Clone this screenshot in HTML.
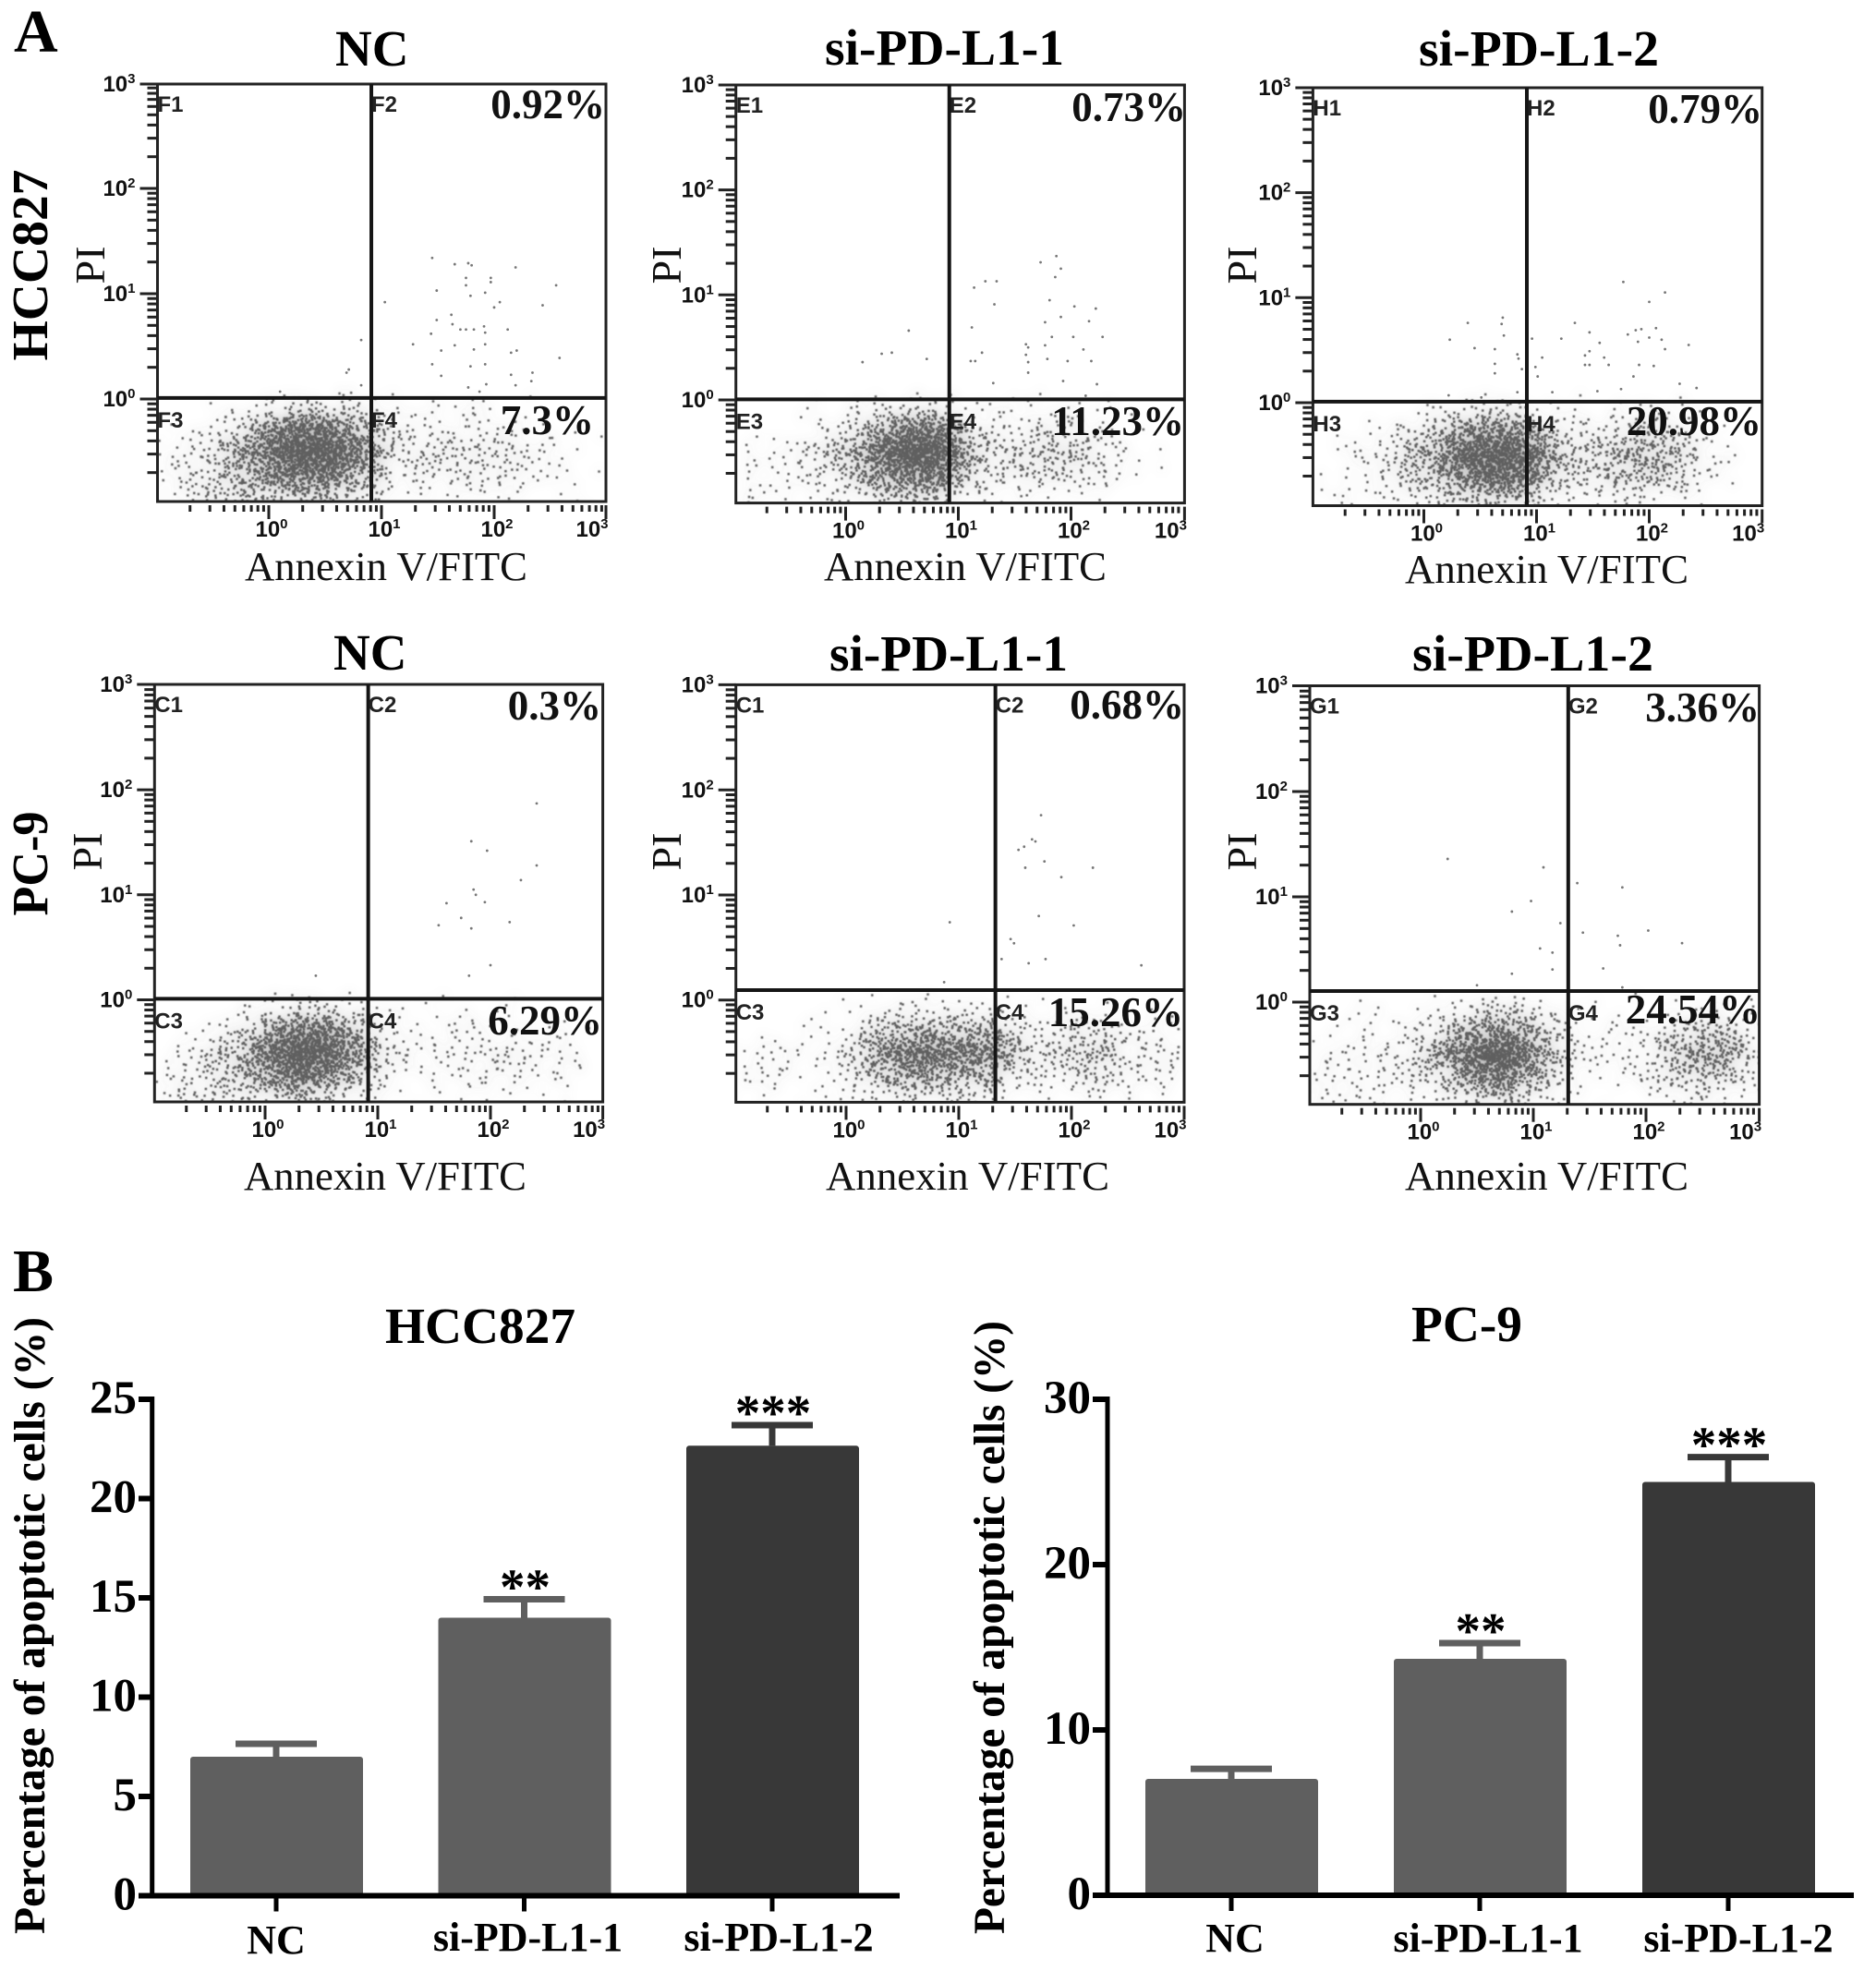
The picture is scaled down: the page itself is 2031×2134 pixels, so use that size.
<!DOCTYPE html>
<html lang="en">
<head>
<meta charset="utf-8">
<title>Apoptosis flow cytometry and bar charts</title>
<style>
html,body{margin:0;padding:0;background:#fff;}
svg{display:block;}
.serif{font-family:"Liberation Serif",serif;fill:#000;}
.b{font-family:"Liberation Serif",serif;font-weight:bold;fill:#000;}
.title{font-size:55px;}
.pct{font-size:45px;text-anchor:end;fill:#111;}
.axl{font-family:"Liberation Serif",serif;font-size:44px;fill:#111;}
.pi{font-family:"Liberation Serif",serif;font-size:46px;fill:#111;text-anchor:middle;}
.q{font-family:"Liberation Sans",sans-serif;font-weight:bold;font-size:24px;fill:#222;}
.tick{font-family:"Liberation Sans",sans-serif;font-weight:bold;font-size:24px;fill:#111;}
</style>
</head>
<body>
<svg id="figure" xmlns="http://www.w3.org/2000/svg" width="2031" height="2134" viewBox="0 0 2031 2134">
<defs>
<filter id="soft" x="-5%" y="-10%" width="110%" height="120%">
<feGaussianBlur in="SourceGraphic" stdDeviation="7" result="hazeRaw"/>
<feComponentTransfer in="hazeRaw" result="haze"><feFuncA type="linear" slope="0.5"/></feComponentTransfer>
<feGaussianBlur in="SourceGraphic" stdDeviation="0.45" result="dots"/>
<feMerge><feMergeNode in="haze"/><feMergeNode in="dots"/></feMerge>
</filter>
</defs>
<rect x="0" y="0" width="2031" height="2134" fill="#fff"/>
<g id="flow-layer"></g>
<g id="bar-layer"></g>

<text class="b" x="15" y="56" font-size="66">A</text>
<text class="b" x="14" y="1398" font-size="66">B</text>

<text class="b title" x="363" y="71">NC</text>
<text class="b title" x="893" y="70" textLength="259" lengthAdjust="spacingAndGlyphs">si-PD-L1-1</text>
<text class="b title" x="1536" y="71" textLength="260" lengthAdjust="spacingAndGlyphs">si-PD-L1-2</text>
<text class="b title" x="361" y="725">NC</text>
<text class="b title" x="898" y="726" textLength="258" lengthAdjust="spacingAndGlyphs">si-PD-L1-1</text>
<text class="b title" x="1529" y="726" textLength="261" lengthAdjust="spacingAndGlyphs">si-PD-L1-2</text>

<text class="b" transform="translate(51,287) rotate(-90)" text-anchor="middle" font-size="55" textLength="207" lengthAdjust="spacingAndGlyphs">HCC827</text>
<text class="b" transform="translate(51,935) rotate(-90)" text-anchor="middle" font-size="55" textLength="113" lengthAdjust="spacingAndGlyphs">PC-9</text>

<text class="pi" transform="translate(113,287) rotate(-90)">PI</text>
<text class="pi" transform="translate(737,287) rotate(-90)">PI</text>
<text class="pi" transform="translate(1360,287) rotate(-90)">PI</text>
<text class="pi" transform="translate(110,922) rotate(-90)">PI</text>
<text class="pi" transform="translate(737,922) rotate(-90)">PI</text>
<text class="pi" transform="translate(1360,922) rotate(-90)">PI</text>

<text class="axl" x="265" y="628" textLength="306" lengthAdjust="spacingAndGlyphs">Annexin V/FITC</text>
<text class="axl" x="892" y="628" textLength="306" lengthAdjust="spacingAndGlyphs">Annexin V/FITC</text>
<text class="axl" x="1521" y="631" textLength="307" lengthAdjust="spacingAndGlyphs">Annexin V/FITC</text>
<text class="axl" x="264" y="1288" textLength="306" lengthAdjust="spacingAndGlyphs">Annexin V/FITC</text>
<text class="axl" x="894" y="1288" textLength="307" lengthAdjust="spacingAndGlyphs">Annexin V/FITC</text>
<text class="axl" x="1521" y="1288" textLength="307" lengthAdjust="spacingAndGlyphs">Annexin V/FITC</text>

<text class="b pct" x="655" y="128">0.92%</text>
<text class="b pct" x="643" y="470">7.3%</text>
<text class="b pct" x="1284" y="131">0.73%</text>
<text class="b pct" x="1282" y="471">11.23%</text>
<text class="b pct" x="1908" y="133">0.79%</text>
<text class="b pct" x="1907" y="471">20.98%</text>
<text class="b pct" x="651" y="779">0.3%</text>
<text class="b pct" x="652" y="1120">6.29%</text>
<text class="b pct" x="1282" y="778">0.68%</text>
<text class="b pct" x="1281" y="1111">15.26%</text>
<text class="b pct" x="1905" y="781">3.36%</text>
<text class="b pct" x="1906" y="1108">24.54%</text>

<text class="b title" x="417" y="1454" textLength="206" lengthAdjust="spacingAndGlyphs">HCC827</text>
<text class="b title" x="1528" y="1452" textLength="120" lengthAdjust="spacingAndGlyphs">PC-9</text>
<text class="b" transform="translate(48,1760) rotate(-90)" text-anchor="middle" font-size="48" textLength="668" lengthAdjust="spacingAndGlyphs">Percentage of apoptotic cells (%)</text>
<text class="b" transform="translate(1087,1762) rotate(-90)" text-anchor="middle" font-size="48" textLength="664" lengthAdjust="spacingAndGlyphs">Percentage of apoptotic cells (%)</text>
</svg>

<script>
// ---------- Flow cytometry data (log10 of fluorescence) ----------
// Dot counts per density cell: rows PI log10 0..-1, columns Annexin log10 -1..3 (0.2-decade bins)
const hccNcDensity = [
 [0,0,1,2,4,10,14,14,12,8,4,3,3,3,3,2,1,0,0,0],
 [1,2,6,18,40,85,115,110,70,36,8,6,7,6,7,6,4,2,1,0],
 [4,8,16,36,70,140,185,180,115,60,16,12,14,14,14,12,8,4,2,1],
 [3,8,16,30,50,85,110,115,65,34,10,8,10,10,10,12,6,3,2,1],
 [4,12,18,20,24,30,34,34,22,14,3,2,3,3,4,3,2,1,1,1]];
const hccSi1Density = [
 [0,0,0,1,2,4,8,12,16,10,3,3,4,4,5,3,2,1,0,0],
 [0,0,1,3,9,20,46,85,105,72,16,8,10,12,12,10,6,2,0,0],
 [2,4,6,12,22,45,100,175,195,125,40,18,16,20,24,20,10,4,1,0],
 [4,4,4,9,12,30,60,95,110,75,22,12,14,14,14,14,8,2,2,0],
 [4,4,3,4,6,10,22,30,30,22,4,3,4,4,2,3,0,0,0,0]];
const hccSi2Density = [
 [0,0,0,0,2,6,10,14,16,10,4,2,3,3,5,6,3,1,0,0],
 [0,1,2,5,14,24,55,85,92,66,24,10,12,16,24,22,12,5,1,0],
 [1,4,5,12,30,50,105,165,185,135,60,22,20,30,40,36,20,8,2,0],
 [1,2,3,10,20,30,65,100,110,90,35,16,16,24,26,26,14,6,1,0],
 [3,3,3,6,8,12,20,30,32,26,6,5,5,6,6,6,3,1,0,0]];
const pcNcDensity = [
 [0,0,0,1,3,10,14,14,8,6,3,1,2,2,1,2,1,0,0,0],
 [0,1,4,8,24,60,95,100,55,26,4,3,3,6,5,4,2,3,2,1],
 [2,6,14,22,60,130,185,160,95,40,12,6,5,8,8,8,10,6,4,1],
 [4,8,14,22,40,80,115,90,45,22,8,3,4,3,6,8,6,4,3,1],
 [6,12,14,16,16,24,30,18,14,10,2,1,1,1,1,2,1,1,2,0]];
const pcSi1Density = [
 [0,0,0,0,1,2,5,7,7,6,6,5,3,2,3,3,2,0,1,0],
 [0,1,2,3,3,8,27,36,40,38,38,31,16,8,12,14,12,8,5,4],
 [3,5,4,3,6,20,55,90,105,95,85,88,30,14,16,28,24,10,10,6],
 [5,6,3,3,5,14,33,50,60,46,40,38,12,10,8,16,16,8,6,5],
 [3,2,0,1,2,6,12,14,12,12,12,8,3,2,1,4,4,3,2,1]];
const pcSi2Density = [
 [0,2,3,2,1,3,8,16,20,16,8,3,2,3,1,1,3,5,5,3],
 [1,2,3,3,5,14,38,68,75,55,22,8,4,3,5,10,22,30,24,12],
 [3,5,6,8,12,30,72,140,195,105,45,12,6,5,6,14,34,48,50,18],
 [5,6,5,8,10,14,33,72,100,55,24,6,4,2,4,12,22,28,22,8],
 [5,6,5,3,4,4,12,20,24,14,8,2,1,1,1,2,5,8,6,3]];

// Individually readable events above the PI gate: [Annexin log10, PI log10]
const hccNcEvents = [[1.45,1.34],[1.65,1.28],[1.77,1.29],[1.80,1.27],[2.19,1.25],[1.75,1.15],[1.97,1.15],[1.97,1.11],[1.75,1.08],[2.55,1.08],[1.49,1.03],[1.92,1.01],[1.79,0.98],[2.05,0.92],[2.00,0.87],[2.43,0.89],[1.03,0.92],[1.62,0.80],[1.63,0.71],[1.49,0.75],[1.70,0.66],[1.75,0.66],[1.82,0.66],[1.91,0.69],[1.92,0.63],[2.12,0.66],[1.44,0.62],[1.28,0.52],[1.65,0.51],[1.82,0.47],[1.92,0.52],[1.53,0.46],[2.15,0.44],[2.20,0.46],[2.58,0.39],[1.45,0.33],[1.79,0.31],[1.92,0.33],[1.53,0.22],[2.15,0.23],[2.34,0.25],[2.33,0.17],[2.19,0.13],[1.93,0.14],[1.77,0.11],[1.87,0.07],[0.82,0.56],[0.71,0.28],[0.69,0.25],[0.82,0.13],[0.10,0.07]];
const hccSi1Events = [[1.87,1.37],[1.73,1.31],[1.91,1.25],[1.86,1.17],[1.24,1.13],[1.34,1.13],[1.14,1.07],[1.32,0.91],[1.81,0.95],[2.03,0.89],[2.22,0.87],[1.91,0.79],[2.16,0.75],[1.77,0.74],[1.12,0.69],[1.83,0.60],[2.02,0.60],[2.28,0.60],[1.77,0.52],[1.60,0.53],[1.62,0.50],[2.11,0.48],[1.21,0.45],[1.60,0.43],[1.79,0.39],[1.11,0.37],[1.15,0.37],[1.62,0.36],[1.97,0.37],[2.18,0.37],[1.62,0.26],[1.93,0.18],[1.31,0.16],[2.23,0.15],[2.13,0.04],[0.56,0.66],[0.32,0.44],[0.41,0.45],[0.72,0.39],[0.15,0.36]];
const hccSi2Events = [[1.77,1.15],[2.14,1.05],[2.00,0.96],[1.34,0.76],[2.06,0.71],[1.93,0.70],[1.88,0.69],[1.81,0.65],[1.47,0.67],[2.00,0.62],[2.11,0.60],[1.22,0.61],[0.96,0.61],[1.90,0.58],[1.56,0.57],[2.35,0.55],[2.14,0.51],[1.47,0.49],[1.43,0.45],[1.05,0.43],[1.60,0.43],[1.47,0.36],[1.43,0.36],[1.64,0.36],[1.91,0.36],[2.04,0.35],[0.99,0.34],[1.01,0.25],[1.86,0.25],[2.27,0.18],[2.42,0.14],[1.75,0.13],[1.54,0.11],[1.14,0.10],[0.70,0.81],[0.39,0.76],[0.69,0.75],[0.71,0.64],[0.23,0.60],[0.45,0.52],[0.63,0.51],[0.83,0.46],[0.84,0.42],[0.63,0.37],[0.87,0.32],[0.63,0.28],[0.83,0.10],[0.22,0.07],[0.51,0.05]];
const pcNcEvents = [[2.41,1.87],[1.83,1.51],[1.97,1.42],[2.41,1.28],[2.27,1.14],[1.85,1.05],[1.87,1.00],[1.61,0.92],[1.95,0.93],[1.74,0.78],[2.17,0.74],[1.54,0.71],[1.83,0.68],[2.00,0.33],[1.81,0.23],[0.45,0.23]];
const pcSi1Events = [[1.73,1.76],[1.65,1.53],[1.68,1.51],[1.58,1.46],[1.53,1.43],[1.76,1.32],[1.59,1.26],[2.19,1.26],[1.91,1.17],[1.71,0.80],[2.02,0.71],[1.46,0.58],[1.49,0.54],[1.38,0.39],[1.77,0.39],[1.62,0.35],[2.62,0.33],[0.92,0.74],[0.87,0.17]];
const pcSi2Events = [[0.24,1.36],[1.09,1.28],[1.39,1.13],[1.79,1.09],[0.98,0.96],[0.81,0.86],[1.24,0.75],[1.44,0.66],[2.02,0.68],[1.75,0.63],[1.77,0.54],[2.32,0.56],[1.06,0.51],[1.17,0.47],[1.17,0.31],[1.62,0.32],[0.81,0.27],[0.50,0.16],[1.79,0.14]];

// Quadrant gates (log10)
const gateAnnexin = [0.91,0.92,0.914,0.915,1.325,1.31];
const gatePI = [0.01,0.005,0.01,0.01,0.094,0.105];
const quadrantPrefixes = ['F','E','H','C','C','G'];
const panelNames = ['hcc827-nc','hcc827-si1','hcc827-si2','pc9-nc','pc9-si1','pc9-si2'];
const densities = [hccNcDensity,hccSi1Density,hccSi2Density,pcNcDensity,pcSi1Density,pcSi2Density];
const events = [hccNcEvents,hccSi1Events,hccSi2Events,pcNcEvents,pcSi1Events,pcSi2Events];
const logTickDecades = [0,1,2,3];

// ---------- Bar chart data ----------
const barCategories = ['NC','si-PD-L1-1','si-PD-L1-2'];
const hccMeans = [7.0,14.0,22.66];
const hccUpper = [7.65,14.93,23.7];
const pcMeans = [7.04,14.3,25.0];
const pcUpper = [7.65,15.25,26.5];
const significance = ['','**','***'];
const hccTicks = [0,5,10,15,20,25];
const pcTicks = [0,10,20,30];

// ---------- Rendering ----------
const NS = 'http://www.w3.org/2000/svg';
const flowLayer = document.getElementById('flow-layer');
const barLayer = document.getElementById('bar-layer');
const defs = document.querySelector('#figure defs');

// Axis geometry for each flow panel (frame edges and log-scale anchors)
const panelGeometry = [
 {l:170.5,r:656,t:91,b:543,x0:291,xd:122,y0:432,yd:114},
 {l:796.7,r:1282.4,t:92,b:544.6,x0:915.5,xd:122,y0:433,yd:113.7},
 {l:1421.4,r:1907.7,t:95,b:547.5,x0:1541.5,xd:122,y0:436,yd:113.7},
 {l:167.3,r:652.6,t:741,b:1193,x0:287,xd:122,y0:1082.5,yd:113.7},
 {l:796.7,r:1282,t:741.4,b:1193.4,x0:916,xd:122,y0:1082.7,yd:113.7},
 {l:1418,r:1904.6,t:742.5,b:1195.7,x0:1538,xd:122,y0:1085,yd:114}
];

function line(parent,x1,y1,x2,y2,sw,color){
  const el = document.createElementNS(NS,'line');
  el.setAttribute('x1',x1);el.setAttribute('y1',y1);el.setAttribute('x2',x2);el.setAttribute('y2',y2);
  el.setAttribute('stroke',color);el.setAttribute('stroke-width',sw);
  parent.appendChild(el);
  return el;
}

// Radical inverse: spreads a bin's dots evenly inside the bin
function radical(i,base){
  let f = 1, r = 0;
  while(i>0){
    f /= base;
    r += f*(i%base);
    i = Math.floor(i/base);
  }
  return r;
}

let seqIndex = 1;
panelGeometry.forEach(function(g,p){
  const xScale = function(v){return g.x0 + v*g.xd;};
  const yScale = function(v){return g.y0 - v*g.yd;};
  const panel = document.createElementNS(NS,'g');
  
  
  flowLayer.appendChild(panel);

  const clip = document.createElementNS(NS,'clipPath');
  clip.setAttribute('id','clip'+p);
  const cr = document.createElementNS(NS,'rect');
  cr.setAttribute('x',g.l);cr.setAttribute('y',g.t);cr.setAttribute('width',g.r-g.l);cr.setAttribute('height',g.b-g.t);
  clip.appendChild(cr);defs.appendChild(clip);

  // Density cells: each count becomes that many event dots scattered softly around its bin
  const clipWrap = document.createElementNS(NS,'g');
  clipWrap.setAttribute('clip-path','url(#clip'+p+')');
  
  
  panel.appendChild(clipWrap);
  const cloud = document.createElementNS(NS,'g');
  cloud.setAttribute('filter','url(#soft)');
  
  
  clipWrap.appendChild(cloud);
  densities[p].forEach(function(row,ri){
    row.forEach(function(count,ci){
      if(!count) return;
      const xa = xScale(-1+ci*0.2), xb = xScale(-1+(ci+1)*0.2);
      const ya = yScale(-ri*0.2), yb = yScale(-(ri+1)*0.2);
      const w = xb-xa, h = yb-ya;
      const cx = (xa+xb)/2, cy = (ya+yb)/2;
      let d = '';
      for(let n=0;n<count;n++){
        seqIndex++;
        const u1 = radical(seqIndex,2), u2 = radical(seqIndex,3);
        const v1 = radical(seqIndex,5), v2 = radical(seqIndex,7);
        const px = cx + (u1+u2-1)*w*0.95 - 1.2, py = cy + (v1+v2-1)*h*0.95 - 1.2;
        d += 'M'+px.toFixed(1)+' '+py.toFixed(1)+'h2.5v2.5h-2.5z';
      }
      const cell = document.createElementNS(NS,'path');
      cell.setAttribute('d',d);
      cell.setAttribute('fill','#5e5e5e');
      
      
      cloud.appendChild(cell);
    });
  });

  // Sparse events
  events[p].forEach(function(pt){
    const dot = document.createElementNS(NS,'circle');
    dot.setAttribute('cx',xScale(pt[0]));
    dot.setAttribute('cy',yScale(pt[1]));
    dot.setAttribute('r',1.4);
    dot.setAttribute('fill','#777');
    
    
    panel.appendChild(dot);
  });

  // Frame
  const frame = document.createElementNS(NS,'rect');
  frame.setAttribute('x',g.l);frame.setAttribute('y',g.t);
  frame.setAttribute('width',g.r-g.l);frame.setAttribute('height',g.b-g.t);
  frame.setAttribute('fill','none');frame.setAttribute('stroke','#222');frame.setAttribute('stroke-width',3);
  
  
  panel.appendChild(frame);

  // Gates
  const gx = xScale(gateAnnexin[p]), gy = yScale(gatePI[p]);
  const gv = line(panel,gx,g.t,gx,g.b,4,'#151515');
  
  
  const gh = line(panel,g.l,gy,g.r,gy,4,'#151515');
  
  

  // Ticks
  const ticks = document.createElementNS(NS,'g');
  
  
  panel.appendChild(ticks);
  for(let dec=-1;dec<3;dec++){
    for(let m=2;m<10;m++){
      const lv = dec+Math.log10(m);
      line(ticks,g.l-11,yScale(lv),g.l,yScale(lv),3,'#222');
      line(ticks,xScale(lv),g.b+4,xScale(lv),g.b+11,3,'#222');
    }
  }
  logTickDecades.forEach(function(dec){
    const ty = dec===3 ? g.t : yScale(dec);
    const tx = dec===3 ? g.r : xScale(dec);
    line(ticks,g.l-19,ty,g.l,ty,3,'#222');
    line(ticks,tx,g.b+4,tx,g.b+19,3,'#222');
    const yl = document.createElementNS(NS,'text');
    yl.setAttribute('class','tick');
    yl.setAttribute('x',g.l-24);
    yl.setAttribute('y',ty+8);
    yl.setAttribute('text-anchor','end');
    
    
    yl.textContent='10';
    const ys = document.createElementNS(NS,'tspan');
    ys.setAttribute('font-size','15');ys.setAttribute('dy','-9');ys.textContent=String(dec);
    yl.appendChild(ys);
    ticks.appendChild(yl);
    const xl = document.createElementNS(NS,'text');
    xl.setAttribute('class','tick');
    xl.setAttribute('x',Math.min(tx+3,g.r-15));
    xl.setAttribute('y',g.b+38);
    xl.setAttribute('text-anchor','middle');
    
    
    xl.textContent='10';
    const xs = document.createElementNS(NS,'tspan');
    xs.setAttribute('font-size','15');xs.setAttribute('dy','-9');xs.textContent=String(dec);
    xl.appendChild(xs);
    ticks.appendChild(xl);
  });

  // Quadrant labels
  [[g.l,g.t+30,1],[gx,g.t+30,2],[g.l,gy+32,3],[gx,gy+32,4]].forEach(function(q){
    const ql = document.createElementNS(NS,'text');
    ql.setAttribute('class','q');
    ql.setAttribute('x',q[0]);
    ql.setAttribute('y',q[1]);
    
    
    ql.textContent=quadrantPrefixes[p]+q[2];
    panel.appendChild(ql);
  });
});

function drawBars(opts){
  const yScale = function(v){return opts.y0 - v*opts.unit;};
  const group = document.createElementNS(NS,'g');
  
  
  barLayer.appendChild(group);
  opts.means.forEach(function(mean,i){
    const cx = opts.c0 + i*opts.step;
    const color = i===2 ? '#383838' : '#5f5f5f';
    const bar = document.createElementNS(NS,'rect');
    bar.setAttribute('x',cx-opts.width/2+0.5);
    bar.setAttribute('y',yScale(mean));
    bar.setAttribute('width',opts.width);
    bar.setAttribute('height',yScale(0)-yScale(mean));
    bar.setAttribute('rx',3);
    bar.setAttribute('fill',color);
    
    
    group.appendChild(bar);
    const stem = line(group,cx,yScale(mean),cx,yScale(opts.upper[i]),7,color);
    
    
    const cap = line(group,cx-44,yScale(opts.upper[i]),cx+44,yScale(opts.upper[i]),7,color);
    
    
    if(significance[i]){
      const star = document.createElementNS(NS,'text');
      star.setAttribute('class','b');
      star.setAttribute('x',cx+1);
      star.setAttribute('y',yScale(opts.upper[i])+5);
      star.setAttribute('text-anchor','middle');
      star.setAttribute('font-size','55');
      
      
      star.textContent=significance[i];
      group.appendChild(star);
    }
    const tk = line(group,cx,yScale(0),cx,yScale(0)+17,5,'#000');
    
    
    const lab = document.createElementNS(NS,'text');
    lab.setAttribute('class','b');
    lab.setAttribute('x',cx+opts.labelDx[i]);
    lab.setAttribute('y',opts.labelY[i]);
    lab.setAttribute('text-anchor','middle');
    lab.setAttribute('font-size','44');
    
    
    lab.textContent=barCategories[i];
    group.appendChild(lab);
  });
  const yAxis = line(group,opts.ax,yScale(opts.ticks[opts.ticks.length-1])-3,opts.ax,yScale(0)+3,5,'#000');
  
  
  const xAxis = line(group,opts.xa,yScale(0),opts.xb,yScale(0),6,'#000');
  
  
  opts.ticks.forEach(function(t){
    const tk = line(group,opts.xa,yScale(t),opts.ax,yScale(t),6,'#000');
    
    
    const lab = document.createElementNS(NS,'text');
    lab.setAttribute('class','b');
    lab.setAttribute('x',opts.xa-2);
    lab.setAttribute('y',yScale(t)+15);
    lab.setAttribute('text-anchor','end');
    lab.setAttribute('font-size','51');
    
    
    lab.textContent=String(t);
    group.appendChild(lab);
  });
}
drawBars({name:'hcc827',means:hccMeans,upper:hccUpper,ticks:hccTicks,y0:2052.5,unit:21.5,c0:299,step:268.5,width:187,ax:164.7,xa:150,xb:974,labelDx:[0,4,7],labelY:[2115,2112,2112]});
drawBars({name:'pc9',means:pcMeans,upper:pcUpper,ticks:pcTicks,y0:2052,unit:17.9,c0:1333,step:269,width:187,ax:1199,xa:1183,xb:2007,labelDx:[4,9,11],labelY:[2113,2113,2113]});
</script>
</body>
</html>
